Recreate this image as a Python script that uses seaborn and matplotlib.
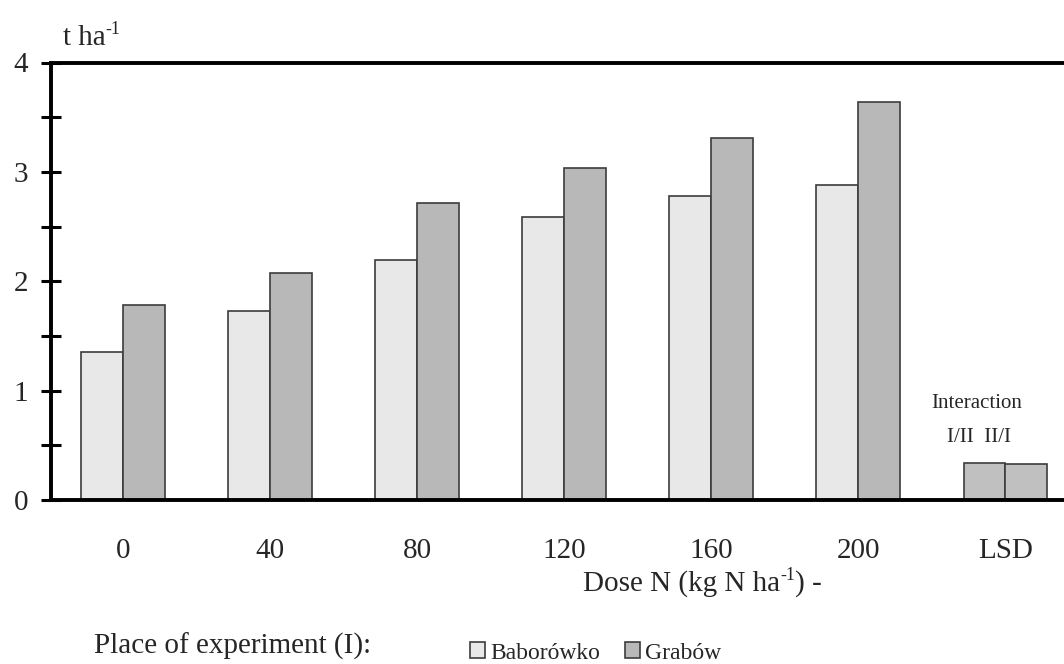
import numpy as np
import pandas as pd
import seaborn as sns
import matplotlib.pyplot as plt

# ---- data ----
doses = ["0", "40", "80", "120", "160", "200"]
places = ["Baborówko", "Grabów"]
baborowko = [1.35, 1.73, 2.19, 2.59, 2.78, 2.88]
grabow = [1.78, 2.08, 2.72, 3.04, 3.31, 3.64]
lsd_names = ["I/II", "II/I"]
lsd_values = [0.34, 0.325]
categories = doses + ["LSD"]

sns.set_theme(style="white")
plt.rcParams["font.family"] = ["Liberation Serif", "DejaVu Serif"]

W, H = 1064, 664
fig = plt.figure(figsize=(W / 100, H / 100), dpi=100)
ax = fig.add_axes([51 / W, 164 / H, 1 - 51 / W, 437.5 / H])

df = pd.DataFrame({
    "dose": doses * 2,
    "place": [places[0]] * len(doses) + [places[1]] * len(doses),
    "value": baborowko + grabow,
})
sns.barplot(data=df, x="dose", y="value", hue="place", order=categories,
            hue_order=places, palette=["#e8e8e8", "#b8b8b8"], saturation=1,
            width=0.567, edgecolor="#3c3c3c", linewidth=1.2, ax=ax)

lsd = pd.DataFrame({"dose": ["LSD"] * 2, "kind": lsd_names, "value": lsd_values})
sns.barplot(data=lsd, x="dose", y="value", hue="kind", order=categories,
            hue_order=lsd_names, palette=["#c0c0c0", "#c0c0c0"], saturation=1,
            width=0.567, edgecolor="#3c3c3c", linewidth=1.2, legend=False, ax=ax)

ax.set_xlim(-0.49, 6.40)
ax.set_ylim(0, 4)
ax.set_yticks([0, 1, 2, 3, 4])
ax.set_yticks([0.5, 1.5, 2.5, 3.5], minor=True)
ax.tick_params(axis="y", which="both", direction="inout", length=14.4, width=2.2,
               color="black", left=True, labelsize=21, pad=9.4)
ax.tick_params(axis="x", length=0, labelsize=21, pad=27)
ax.set_xlabel("")
ax.set_ylabel("")
for s in ["left", "bottom", "top"]:
    ax.spines[s].set_linewidth(2.8)
    ax.spines[s].set_color("black")
ax.spines["right"].set_visible(False)

renderer = fig.canvas.get_renderer()


def rich_text(x_px, baseline_px, pieces):
    """Draw consecutive text pieces (text, fontsize, raise_px) left to right."""
    x = x_px
    for txt, size, rise in pieces:
        t = fig.text(x / W, (H - baseline_px + rise) / H, txt, fontsize=size,
                     ha="left", va="baseline")
        x += t.get_window_extent(renderer).width


rich_text(63, 45, [("t ha", 21, 0), ("-1", 13, 11)])
rich_text(583, 591, [("Dose N (kg N ha", 21, 0), ("-1", 13, 11), (") -", 21, 0)])

fig.text(977 / W, (H - 408) / H, "Interaction", fontsize=15, ha="center", va="baseline")
fig.text(979 / W, (H - 442) / H, "I/II  II/I", fontsize=15, ha="center", va="baseline")

fig.text(94 / W, (H - 654) / H, "Place of experiment (I):", fontsize=21,
         ha="left", va="baseline")
sns.move_legend(ax, loc="center left", bbox_to_anchor=(470 / W, (H - 653) / H),
                bbox_transform=fig.transFigure, ncol=2, frameon=False, title=None,
                fontsize=17, handlelength=0.64, handleheight=0.64, handletextpad=0.21,
                columnspacing=1.06, borderpad=0, borderaxespad=0)

fig.savefig("out.png", dpi=100)
